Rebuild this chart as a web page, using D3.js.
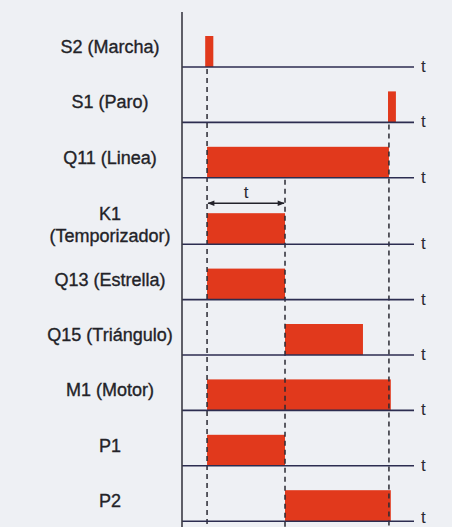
<html>
    <head>
        <title>cronograma</title>
        <script src="https://d3js.org/d3.v7.min.js"></script>
        <style>
            body { margin: 0; background: #eef0f4; }
            svg { display: block; }
        </style>
        <script>
            // signal names (one row each), on/off times in arbitrary time units
            const signals = ["S2 (Marcha)", "S1 (Paro)", "Q11 (Linea)", "K1|(Temporizador)", "Q13 (Estrella)",
                             "Q15 (Triángulo)", "M1 (Motor)", "P1", "P2"];
            const onTimes = [10, 88.8, 10.8, 10.8, 10.8, 44.4, 10.8, 10.8, 44.4];
            const offTimes = [13.5, 92.2, 89.2, 44.4, 44.4, 78, 90, 44.4, 90];
            // instants marked with dashed guides: marcha, end of timer, paro
            const events = [10.8, 44.4, 89.2];
            const timerSpan = [10.8, 44.4];

            document.addEventListener('DOMContentLoaded', function(){
                const w = 452;
                const h = 527;
                const axisX = 182;
                const lineColor = "#2c2d50";
                const barColor = "#e1391c";
                const font = "Liberation Sans, Arial, sans-serif";

                const svg = d3.select("body")
                    .append("svg")
                    .attr("width", w)
                    .attr("height", h);

                const xScale = d3.scaleLinear()
                    .domain([0, 100])
                    .range([axisX, 414]);

                // row baselines, with extra room after Q11 for the timer arrow
                const rowScale = d3.scalePoint()
                    .domain(signals)
                    .range([67, 510.2]);
                const baseY = (s, i) => rowScale(s) + (i >= 3 ? 11 : 0);
                const levelScale = d3.scaleLinear().domain([0, 1]).range([0, -31]);

                const rows = signals.map((s, i) => ({
                    name: s,
                    y: baseY(s, i),
                    on: onTimes[i],
                    off: offTimes[i]
                }));

                // bars
                svg.selectAll("rect.bar")
                    .data(rows)
                    .enter()
                    .append("rect")
                    .attr("class", "bar")
                    .attr("x", d => xScale(d.on))
                    .attr("y", d => d.y + levelScale(1))
                    .attr("width", d => xScale(d.off) - xScale(d.on))
                    .attr("height", levelScale(0) - levelScale(1))
                    .attr("fill", barColor);

                // dashed guides
                const guideStart = [rows[0].y, rows[2].y, rows[1].y];
                svg.selectAll("line.guide")
                    .data(events)
                    .enter()
                    .append("line")
                    .attr("class", "guide")
                    .attr("x1", d => xScale(d))
                    .attr("x2", d => xScale(d))
                    .attr("y1", (d, i) => guideStart[i] + 2)
                    .attr("y2", h)
                    .attr("stroke", "#2a2a33")
                    .attr("stroke-width", 1.5)
                    .attr("stroke-dasharray", "5,4");

                // baselines
                svg.selectAll("line.base")
                    .data(rows)
                    .enter()
                    .append("line")
                    .attr("class", "base")
                    .attr("x1", axisX)
                    .attr("x2", xScale(100))
                    .attr("y1", d => d.y)
                    .attr("y2", d => d.y)
                    .attr("stroke", lineColor)
                    .attr("stroke-width", 1.6);

                // vertical axis
                svg.append("line")
                    .attr("x1", axisX).attr("x2", axisX)
                    .attr("y1", 12).attr("y2", h)
                    .attr("stroke", "#3a3a44")
                    .attr("stroke-width", 1.6);

                // "t" at the end of each baseline
                svg.selectAll("text.t")
                    .data(rows)
                    .enter()
                    .append("text")
                    .attr("class", "t")
                    .attr("x", xScale(100) + 7)
                    .attr("y", d => Math.min(d.y + 5, h - 4))
                    .attr("fill", "#2a2a33")
                    .style("font-family", font)
                    .style("font-size", "17px")
                    .text("t");

                // row labels
                const labels = svg.selectAll("text.label")
                    .data(rows)
                    .enter()
                    .append("text")
                    .attr("class", "label")
                    .attr("x", 110)
                    .attr("y", d => d.y - 14)
                    .attr("text-anchor", "middle")
                    .attr("fill", "#232328")
                    .attr("stroke", "#232328")
                    .attr("stroke-width", 0.35)
                    .style("font-family", font)
                    .style("font-size", "18px");
                labels.each(function(d){
                    const parts = d.name.split("|");
                    const el = d3.select(this);
                    if (parts.length === 1) {
                        el.append("tspan").attr("x", 110).attr("dy", 0).text(parts[0]);
                    } else {
                        el.append("tspan").attr("x", 110).attr("dy", -10).text(parts[0]);
                        el.append("tspan").attr("x", 110).attr("dy", 22).text(parts[1]);
                    }
                });

                // timer arrow
                const defs = svg.append("defs");
                defs.append("marker")
                    .attr("id", "head")
                    .attr("viewBox", "0 0 10 10")
                    .attr("refX", 9).attr("refY", 5)
                    .attr("markerWidth", 9).attr("markerHeight", 7)
                    .attr("markerUnits", "userSpaceOnUse")
                    .attr("orient", "auto-start-reverse")
                    .append("path")
                    .attr("d", "M0,1 L10,5 L0,9 Z")
                    .attr("fill", "#22222a");
                const arrowY = rows[3].y - 41;
                svg.append("line")
                    .attr("x1", xScale(timerSpan[0]) + 1)
                    .attr("x2", xScale(timerSpan[1]) - 1)
                    .attr("y1", arrowY).attr("y2", arrowY)
                    .attr("stroke", "#22222a")
                    .attr("stroke-width", 1.4)
                    .attr("marker-start", "url(#head)")
                    .attr("marker-end", "url(#head)");
                svg.append("text")
                    .attr("x", (xScale(timerSpan[0]) + xScale(timerSpan[1])) / 2)
                    .attr("y", arrowY - 5)
                    .attr("text-anchor", "middle")
                    .attr("fill", "#2a2a33")
                    .style("font-family", font)
                    .style("font-size", "17px")
                    .text("t");
            });
        </script>
    </head>
    <body>
    </body>
</html>
